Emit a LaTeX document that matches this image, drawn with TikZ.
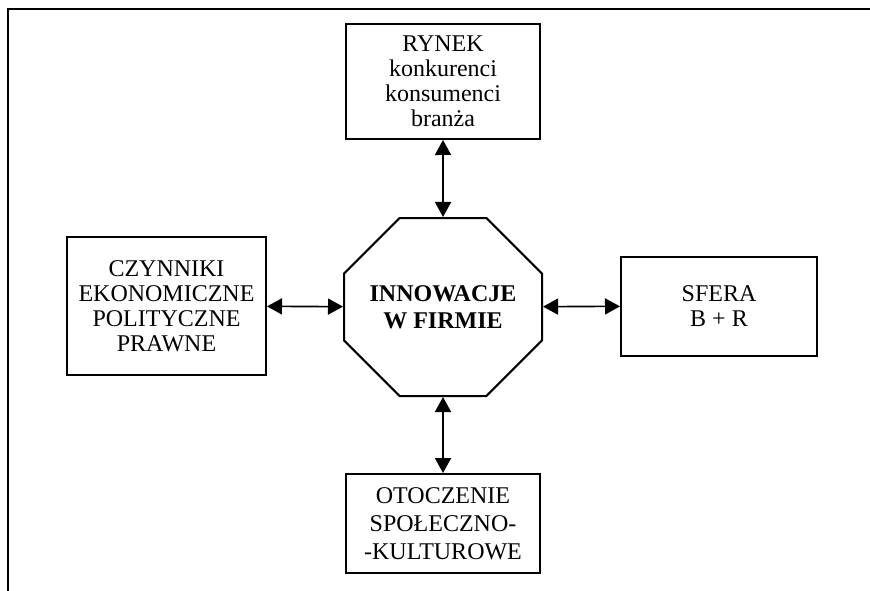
\documentclass[tikz,border=0pt]{standalone}
\usepackage{fontspec}
\setmainfont{Liberation Serif}
\usetikzlibrary{arrows.meta,shapes.misc}
\begin{document}
\begin{tikzpicture}[x=1pt,y=-1pt]
\newcommand{\xsc}{1}
\newcommand{\ysc}{1}
\tikzstyle{box}=[draw,line width=2pt,align=center,inner sep=0pt,font=\fontsize{24}{25}\selectfont]
\tikzstyle{core}=[draw,line width=2pt,align=center,inner sep=0pt,chamfered rectangle,chamfered rectangle xsep=35pt,chamfered rectangle ysep=34pt,minimum width=198pt,minimum height=178pt,font=\bfseries\fontsize{24}{27}\selectfont]
\tikzstyle{link}=[line width=1.6pt,{Triangle[length=15pt,width=16pt]}-{Triangle[length=15pt,width=16pt]}]
\useasboundingbox (0,0) rectangle (870,591);
\draw[line width=2.5pt] (870,9) -- (8,9) -- (8,591);
\node[core] (firma) at (\xsc*443,\ysc*307) {INNOWACJE\\W FIRMIE};
\node[box,minimum width=194pt,minimum height=115pt] (rynek) at (\xsc*443,\ysc*81.5) {RYNEK\\konkurenci\\konsumenci\\branża};
\node[box,minimum width=199pt,minimum height=138pt] (czynniki) at (\xsc*166.5,\ysc*306) {CZYNNIKI\\EKONOMICZNE\\POLITYCZNE\\PRAWNE};
\node[box,minimum width=196pt,minimum height=99pt] (sfera) at (\xsc*719,\ysc*306) {SFERA\\B + R};
\node[box,minimum width=194pt,minimum height=99pt,font=\fontsize{24}{28}\selectfont] (otoczenie) at (\xsc*443,\ysc*523.5) {OTOCZENIE\\SPOŁECZNO-\\-KULTUROWE};
\draw[link] (rynek) -- (firma);
\draw[link] (czynniki) -- (firma);
\draw[link] (firma) -- (sfera);
\draw[link] (firma) -- (otoczenie);
\end{tikzpicture}
\end{document}
